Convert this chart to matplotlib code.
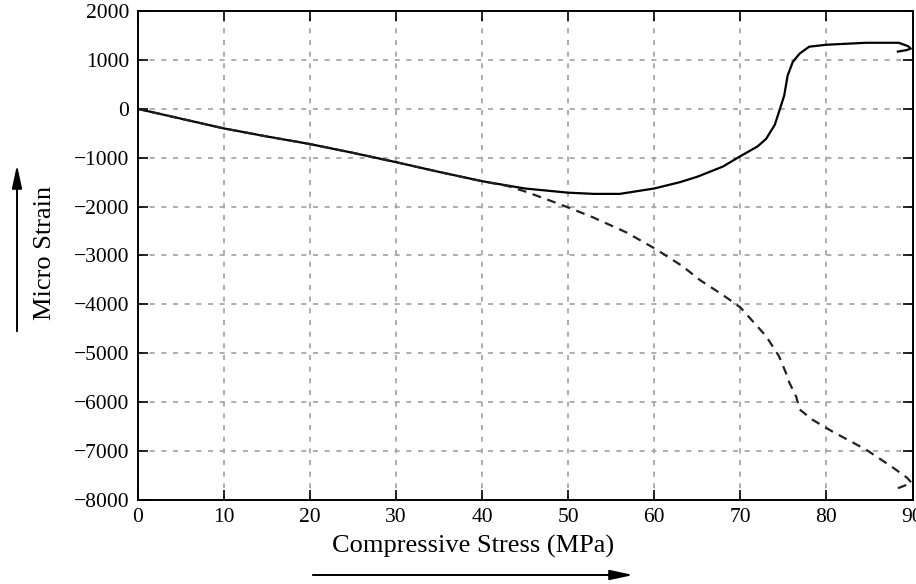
import numpy as np
import matplotlib
matplotlib.use("Agg")
import matplotlib.pyplot as plt

# stress (MPa) vs micro strain
stress_solid = [0, 5, 10, 15, 20, 25, 30, 35, 40, 45, 50, 53, 56, 60, 63, 65, 68, 70, 72,
                73, 74, 74.5, 75.1, 75.5, 76.1, 76.9, 78, 80, 84.6, 88.4, 89.5, 89.8, 89.3, 88.3]
strain_solid = [0, -200, -400, -565, -720, -900, -1090, -1290, -1480, -1630, -1715, -1740,
                -1740, -1630, -1500, -1390, -1180, -970, -770, -615, -330, -60, 270, 680, 960,
                1130, 1270, 1310, 1350, 1350, 1280, 1230, 1200, 1170]

stress_dashed = [0, 5, 10, 15, 20, 25, 30, 35, 40, 43, 45, 47.5, 50.2, 52.9, 56.8, 60.2,
                 63.3, 65.3, 68, 70, 73, 74.5, 75.3, 75.7, 76.5, 76.9, 78.4, 80.7, 84.6, 87.6,
                 89.4, 89.9, 88.3]
strain_dashed = [0, -200, -400, -565, -720, -900, -1090, -1290, -1480, -1580, -1690, -1850,
                 -2030, -2220, -2530, -2870, -3220, -3500, -3810, -4060, -4650, -5060, -5400,
                 -5600, -5890, -6150, -6360, -6600, -6970, -7320, -7550, -7650, -7760]

xticks = np.arange(0, 91, 10)
yticks = np.arange(-8000, 2001, 1000)

plt.rcParams['font.family'] = ['Liberation Serif', 'DejaVu Serif']
plt.rcParams['axes.unicode_minus'] = True

fig = plt.figure(figsize=(9.16, 5.84), dpi=100)
ax = fig.add_axes([137.5 / 916, 1 - 500 / 584, 775 / 916, 489 / 584])

ax.plot(stress_solid, strain_solid, color='black', lw=1.6, solid_joinstyle='round')
ax.plot(stress_dashed, strain_dashed, color='#222222', lw=1.6, dashes=(4, 3))

ax.set_xlim(0, 90)
ax.set_ylim(-8000, 2000)
ax.set_xticks(xticks)
ax.set_yticks(yticks)
ax.tick_params(direction='in', length=7, width=1.2, top=True, right=True,
               labelsize=15.5, pad=6, colors='black')
ax.grid(True, color='#a0a0a0', linestyle=(0, (3, 4)), lw=1.2)
for s in ax.spines.values():
    s.set_linewidth(1.4)

ax.text(0.433, -0.096, 'Compressive Stress (MPa)', transform=ax.transAxes,
        ha='center', va='center', fontsize=19)
ax.text(-0.119, 0.506, 'Micro Strain', transform=ax.transAxes, rotation=90,
        ha='center', va='center', fontsize=19)

# arrows next to the axis labels
ax.annotate('', xy=(636 / 916, 1 - 575 / 584), xytext=(310 / 916, 1 - 575 / 584),
            xycoords='figure fraction', textcoords='figure fraction',
            arrowprops=dict(arrowstyle='-|>,head_length=1.4,head_width=0.3',
                            color='black', lw=1.4))
ax.annotate('', xy=(17 / 916, 1 - 162 / 584), xytext=(17 / 916, 1 - 334 / 584),
            xycoords='figure fraction', textcoords='figure fraction',
            arrowprops=dict(arrowstyle='-|>,head_length=1.4,head_width=0.3',
                            color='black', lw=1.4))

fig.savefig('out.png', dpi=100)
